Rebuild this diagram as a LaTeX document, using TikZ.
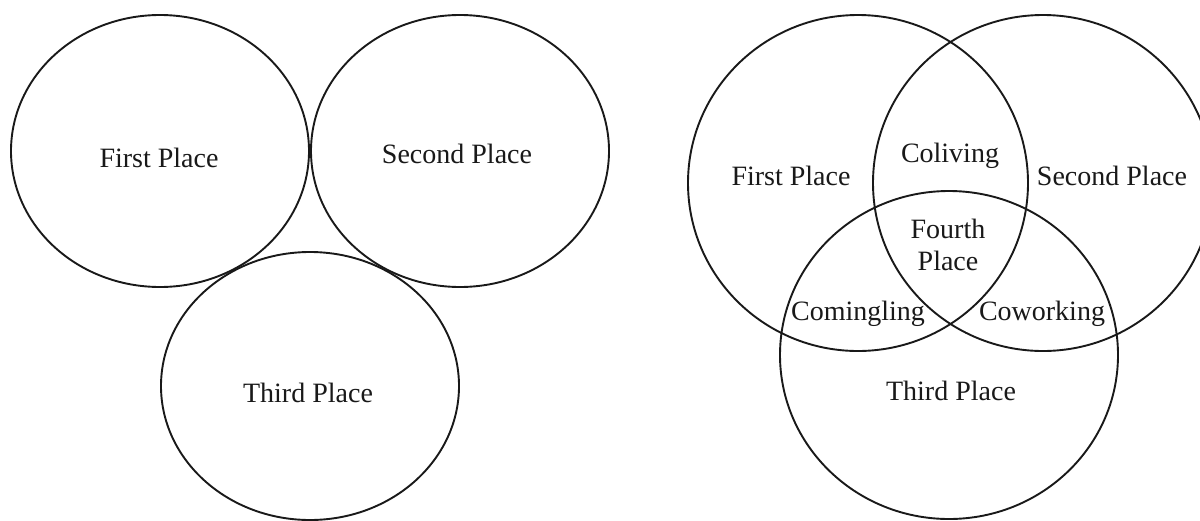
\documentclass[tikz,border=0pt]{standalone}
\usepackage{fontspec}
\setmainfont{Liberation Serif}
\begin{document}
\begin{tikzpicture}[x=1pt,y=-1pt,
  ring/.style={line width=1.9pt, draw=black!90},
  lbl/.style={font=\fontsize{28}{32}\selectfont, inner sep=0pt, align=center, text=black!90, anchor=base}]
\useasboundingbox (0,0) rectangle (1200,520);
% left diagram
\coordinate (L1) at (160,151);
\coordinate (L2) at (460,151);
\coordinate (L3) at (310,386);
\draw[ring] (L1) ellipse [x radius=149pt, y radius=136pt];
\draw[ring] (L2) ellipse [x radius=149pt, y radius=136pt];
\draw[ring] (L3) ellipse [x radius=149pt, y radius=134pt];
\node[lbl] (lfirst) at (159,167) {First Place};
\node[lbl] (lsecond) at (457,163) {Second Place};
\node[lbl] (lthird) at (308,402) {Third Place};
% right diagram
\coordinate (R1) at (858,183);
\coordinate (R2) at (1043,183);
\coordinate (R3) at (949,355);
\draw[ring] (R1) ellipse [x radius=170pt, y radius=168pt];
\draw[ring] (R2) ellipse [x radius=170pt, y radius=168pt];
\draw[ring] (R3) ellipse [x radius=169pt, y radius=164pt];
\node[lbl] (rfirst) at (791,185) {First Place};
\node[lbl] (rsecond) at (1112,185) {Second Place};
\node[lbl] (coliving) at (950,162) {Coliving};
\node[lbl, anchor=center] (fourth) at (948,245) {Fourth\\Place};
\node[lbl] (comingling) at (858,320) {Comingling};
\node[lbl] (coworking) at (1042,320) {Coworking};
\node[lbl] (rthird) at (951,400) {Third Place};
\end{tikzpicture}
\end{document}
